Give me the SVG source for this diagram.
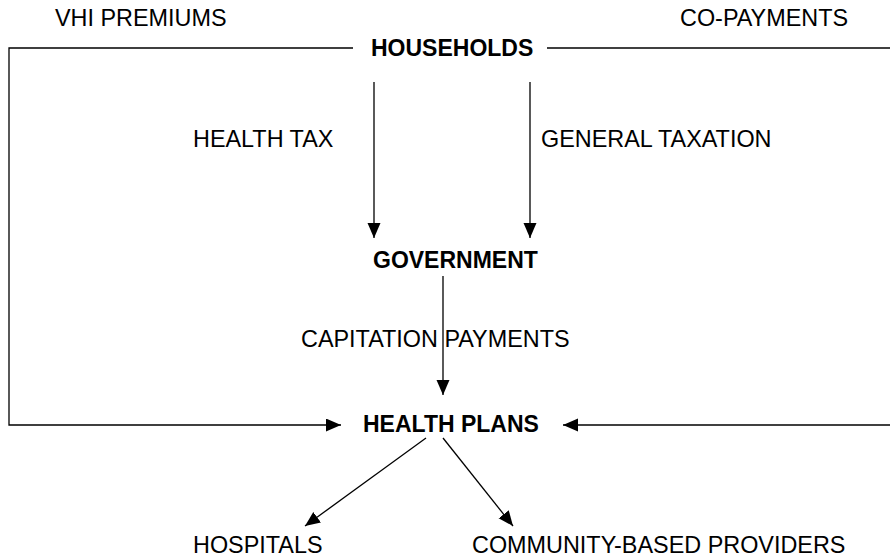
<svg xmlns="http://www.w3.org/2000/svg" width="890" height="558" viewBox="0 0 890 558">
  <style>
    text { font-family: "Liberation Sans", Arial, sans-serif; font-size: 23.4px; fill: #000; }
    .node { font-weight: bold; font-size: 23px; }
    .edge { fill: none; stroke: #000; stroke-width: 1.3; }
  </style>
  <defs>
    <marker id="arrow" markerUnits="userSpaceOnUse" markerWidth="16" markerHeight="14" refX="15" refY="6.5" orient="auto">
      <path d="M0,0 L15,6.5 L0,13 Z" fill="#000"/>
    </marker>
  </defs>
  <rect width="890" height="558" fill="#fff"/>

  <!-- flow labels -->
  <g id="labels">
    <text x="55" y="26">VHI PREMIUMS</text>
    <text x="680" y="26">CO-PAYMENTS</text>
    <text x="193" y="147">HEALTH TAX</text>
    <text x="541" y="147">GENERAL TAXATION</text>
    <text x="301" y="347">CAPITATION PAYMENTS</text>
  </g>

  <!-- connectors -->
  <g id="connectors">
    <path class="edge" d="M353,48 H9 V425 H341" marker-end="url(#arrow)"/>
    <path class="edge" d="M547,48 H890"/>
    <path class="edge" d="M890,425 H563" marker-end="url(#arrow)"/>
    <path class="edge" d="M374,82 V238" marker-end="url(#arrow)"/>
    <path class="edge" d="M530,82 V238" marker-end="url(#arrow)"/>
    <path class="edge" d="M443,276 V395" marker-end="url(#arrow)"/>
    <path class="edge" d="M426,438 L305,526" marker-end="url(#arrow)"/>
    <path class="edge" d="M443,438 L513,526" marker-end="url(#arrow)"/>
  </g>

  <!-- nodes -->
  <g id="households"><text class="node" x="371" y="56">HOUSEHOLDS</text></g>
  <g id="government"><text class="node" x="373" y="268">GOVERNMENT</text></g>
  <g id="health-plans"><text class="node" x="363" y="432">HEALTH PLANS</text></g>
  <g id="hospitals"><text x="193" y="553">HOSPITALS</text></g>
  <g id="community-providers"><text x="472" y="553">COMMUNITY-BASED PROVIDERS</text></g>
</svg>
